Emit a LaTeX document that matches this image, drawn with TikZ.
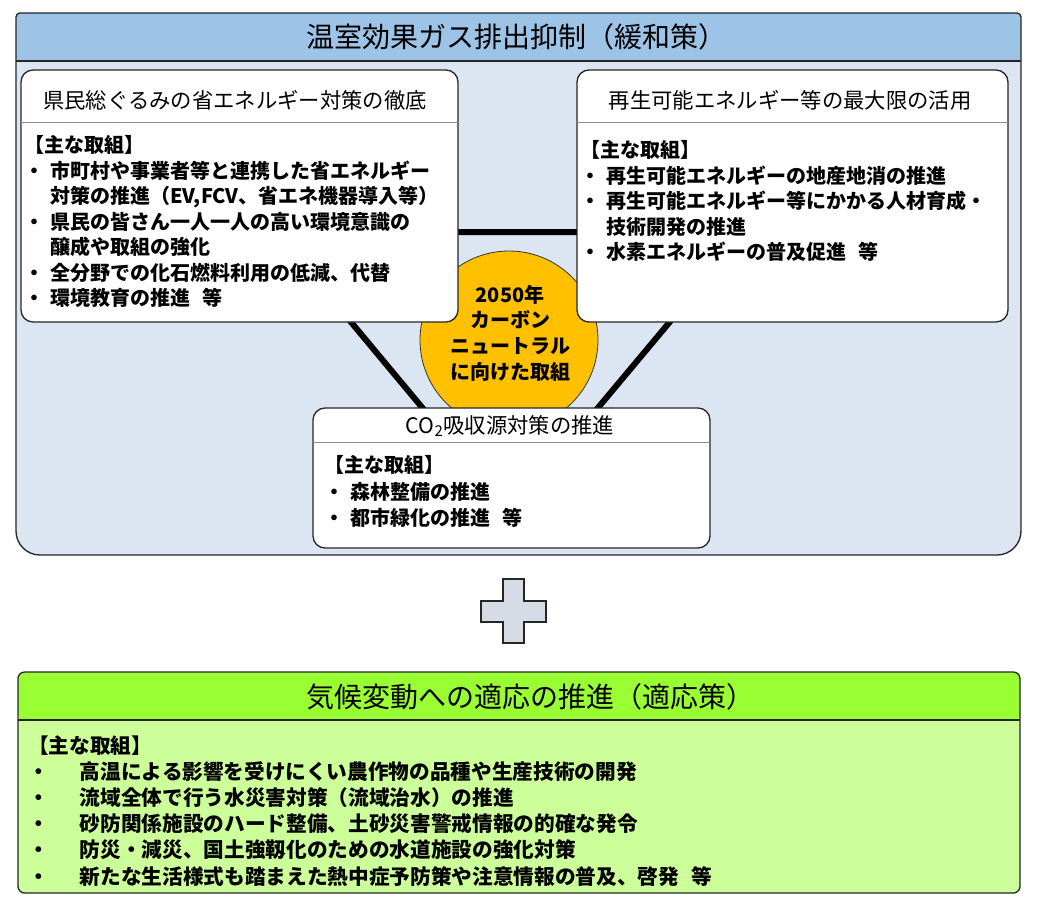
\documentclass[tikz,border=0pt]{standalone}
\usepackage{fontspec}
\setmainfont{Noto Sans CJK JP}
\usetikzlibrary{fit}
\definecolor{capblue}{HTML}{9DC3E6}
\definecolor{panelblue}{HTML}{DCE6F2}
\definecolor{hubgold}{HTML}{FFC000}
\definecolor{plusgray}{HTML}{D6DCE5}
\definecolor{capgreen}{HTML}{99FF33}
\definecolor{panelgreen}{HTML}{CCFF99}
\newcommand{\bul}{\makebox[1.3em][l]{・}}
\newcommand{\cont}{\hspace*{1.3em}}
\newcommand{\gbul}{\makebox[2.5em][l]{・}}
\newcommand{\etc}{\hspace{.6em}等}

\begin{document}
\begin{tikzpicture}[x=0.75pt, y=-0.75pt,
  card/.style={draw=black!85, line width=1pt, fill=white,
    rounded corners=9pt, inner sep=0pt},
  rule/.style={draw=black!45, line width=0.6pt},
  captitle/.style={font=\fontsize{21}{24}\selectfont, anchor=base},
  cardtitle/.style={font=\fontsize{16}{19}\selectfont, anchor=base},
  item/.style={font=\bfseries\fontsize{15}{18}\selectfont,
    anchor=base west, inner sep=0pt},
  gitem/.style={item, font=\bfseries\fontsize{15.5}{18}\selectfont},
  tie/.style={line width=4.5pt, black}]
\useasboundingbox (0,0) rectangle (1043,897);

% mitigation panel
\fill[panelblue] (518,13) [rounded corners=3pt] -- (1021,13) -- (1021,300)
  [rounded corners=18pt] -- (1021,555) -- (16,555) -- (16,300)
  [rounded corners=3pt] -- (16,13) -- cycle;
\fill[capblue, rounded corners=3pt] (16,13) rectangle (1021,61);
\draw[line width=1pt, black!85] (16,61) -- (1021,61);
\draw[line width=1pt, black!85] (518,13) [rounded corners=3pt] -- (1021,13) -- (1021,300)
  [rounded corners=18pt] -- (1021,555) -- (16,555) -- (16,300)
  [rounded corners=3pt] -- (16,13) -- cycle;
\node[captitle] (mitT) at (516,47.6) {温室効果ガス排出抑制（緩和策）};

% triangle behind the three cards
\coordinate (tl) at (276,232);
\coordinate (tr) at (745,232);
\coordinate (tb) at (510,513);
\draw[tie] (tl) -- (tr) -- (tb) -- cycle;

\node[circle, draw=black!80, line width=0.6pt, fill=hubgold,
  minimum size=133.5pt, inner sep=0pt] (hub) at (509,340) {};
\node[font=\bfseries\fontsize{15}{19.3}\selectfont, align=center]
  (hubT) at (510,333) {2050年\\カーボン\\ニュートラル\\に向けた取組};

% cards
\node[card, fit={(21,70) (458,322)}] (save) {};
\node[card, fit={(577,70) (1008,322)}] (renew) {};
\node[card, fit={(313,408) (710,548)}] (sink) {};
\draw[rule] (21,122) -- (458,122);
\draw[rule] (577,122) -- (1008,122);
\draw[rule] (313,442) -- (710,442);
\node[cardtitle] (saveT) at (235,108) {県民総ぐるみの省エネルギー対策の徹底};
\node[cardtitle] (renewT) at (790,108) {再生可能エネルギー等の最大限の活用};
\node[cardtitle] (sinkT) at (510,433) {CO\textsubscript{2}吸収源対策の推進};

\foreach \txt [count=\k] in {【主な取組】,
    \bul 市町村や事業者等と連携した省エネルギー,
    {\cont 対策の推進（EV,FCV、省エネ機器導入等）},
    \bul 県民の皆さん一人一人の高い環境意識の,
    \cont 醸成や取組の強化,
    \bul 全分野での化石燃料利用の低減、代替,
    \bul 環境教育の推進\etc}
  \node[item] (save\k) at (24,{152.5+25.5*(\k-1)}) {\txt};

\foreach \txt [count=\k] in {【主な取組】,
    \bul 再生可能エネルギーの地産地消の推進,
    \bul 再生可能エネルギー等にかかる人材育成・,
    \cont 技術開発の推進,
    \bul 水素エネルギーの普及促進\etc}
  \node[item] (renew\k) at (580,{157.5+25.5*(\k-1)}) {\txt};

\foreach \txt [count=\k] in {【主な取組】,
    \bul 森林整備の推進,
    \bul 都市緑化の推進\etc}
  \node[item] (sink\k) at (324,{472.5+26.5*(\k-1)}) {\txt};

% plus sign
\draw[fill=plusgray, line width=1pt, draw=black!85] (503,579) -- (524,579) -- (524,601)
  -- (546,601) -- (546,622) -- (524,622) -- (524,643) -- (503,643)
  -- (503,622) -- (481,622) -- (481,601) -- (503,601) -- cycle;

% adaptation panel
\fill[panelgreen, rounded corners=5pt] (18,672) rectangle (1020,893);
\fill[capgreen, rounded corners=4pt] (18,672) rectangle (1020,720);
\draw[line width=1pt, black!85] (18,720) -- (1020,720);
\draw[line width=1pt, black!85, rounded corners=5pt] (18,672) rectangle (1020,893);
\node[captitle] (adaptT) at (530,707.6) {気候変動への適応の推進（適応策）};

\foreach \txt [count=\k] in {【主な取組】,
    \gbul 高温による影響を受けにくい農作物の品種や生産技術の開発,
    \gbul 流域全体で行う水災害対策（流域治水）の推進,
    \gbul 砂防関係施設のハード整備、土砂災害警戒情報の的確な発令,
    \gbul 防災・減災、国土強靱化のための水道施設の強化対策,
    \gbul 新たな生活様式も踏まえた熱中症予防策や注意情報の普及、啓発\etc}
  \node[gitem] (adapt\k) at (28,{753+26.2*(\k-1)}) {\txt};
\end{tikzpicture}
\end{document}
